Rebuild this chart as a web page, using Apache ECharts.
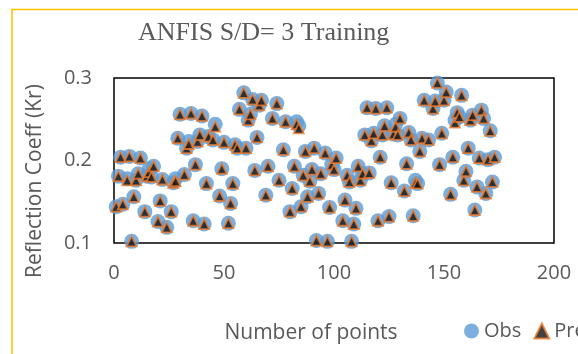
<!DOCTYPE html>
<html>
<head>
<meta charset="utf-8">
<script src="https://cdn.jsdelivr.net/npm/echarts@6/dist/echarts.min.js"></script>
<style>
  html, body { margin: 0; padding: 0; background: #fff; }
  #chart { width: 578px; height: 354px; }
</style>
</head>
<body>
<div id="chart"></div>
<script>
// point number (x)
const pointNo = [1, 2, 3, 4, 6, 7, 8, 9, 10, 11, 12, 14, 15, 16, 17, 18, 20, 21, 22, 24, 26, 27, 28, 29, 30,
  32, 33, 34, 35, 36, 37, 38, 39, 40, 41, 42, 43, 45, 46, 48, 49, 50, 52, 53, 54, 55, 56, 57, 59, 60,
  61, 62, 63, 64, 65, 66, 67, 69, 70, 72, 74, 75, 77, 78, 80, 81, 82, 83, 84, 85, 86, 87, 88, 89, 90,
  91, 92, 93, 94, 96, 97, 98, 99, 100, 101, 104, 105, 106, 107, 108, 109, 110, 111, 112, 113, 114, 115, 116, 117, 118,
  119, 120, 121, 122, 123, 124, 125, 126, 127, 128, 129, 130, 132, 133, 134, 135, 136, 137, 138, 139,
  140, 141, 143, 145, 146, 147, 148, 149, 150, 151, 153, 154, 155, 156, 157, 158, 159, 160, 161, 162,
  163, 164, 165, 166, 167, 168, 169, 170, 171, 172, 173];

// observed Kr
const obsKr = [0.144, 0.181, 0.204, 0.147, 0.178, 0.205, 0.102, 0.156, 0.176, 0.184, 0.203, 0.138, 0.181, 0.190, 0.180, 0.193, 0.126, 0.151, 0.177, 0.119, 0.138, 0.173, 0.178, 0.227, 0.256,
  0.183, 0.215, 0.223, 0.257, 0.127, 0.195, 0.223, 0.231, 0.254, 0.123, 0.172, 0.229, 0.225, 0.244, 0.157, 0.190, 0.222, 0.124, 0.148, 0.172, 0.219, 0.215, 0.262, 0.282, 0.215,
  0.249, 0.256, 0.274, 0.188, 0.228, 0.267, 0.273, 0.158, 0.193, 0.251, 0.269, 0.176, 0.213, 0.247, 0.138, 0.166, 0.193, 0.247, 0.242, 0.144, 0.182, 0.211, 0.156, 0.175, 0.189,
  0.215, 0.103, 0.160, 0.184, 0.209, 0.102, 0.143, 0.195, 0.189, 0.203, 0.127, 0.152, 0.182, 0.174, 0.102, 0.123, 0.142, 0.193, 0.176, 0.184, 0.231, 0.264, 0.185, 0.224, 0.233,
  0.263, 0.127, 0.204, 0.231, 0.242, 0.264, 0.132, 0.173, 0.232, 0.244, 0.231, 0.251, 0.163, 0.196, 0.234, 0.225, 0.133, 0.176, 0.172, 0.211,
  0.227, 0.273, 0.225, 0.263, 0.272, 0.294, 0.195, 0.233, 0.273, 0.283, 0.159, 0.204, 0.249, 0.258, 0.253, 0.279, 0.176, 0.187, 0.215, 0.249,
  0.255, 0.140, 0.168, 0.203, 0.261, 0.251, 0.160, 0.201, 0.236, 0.174, 0.204];

// predicted Kr (ANFIS)
const preKr = [0.144, 0.181, 0.204, 0.147, 0.176, 0.205, 0.102, 0.156, 0.176, 0.184, 0.203, 0.138, 0.181, 0.186, 0.180, 0.193, 0.126, 0.151, 0.177, 0.119, 0.138, 0.173, 0.175, 0.227, 0.256,
  0.183, 0.215, 0.220, 0.257, 0.127, 0.195, 0.223, 0.231, 0.254, 0.123, 0.172, 0.229, 0.225, 0.241, 0.157, 0.190, 0.222, 0.124, 0.148, 0.172, 0.219, 0.215, 0.262, 0.282, 0.215,
  0.249, 0.256, 0.274, 0.188, 0.228, 0.267, 0.273, 0.158, 0.193, 0.251, 0.269, 0.176, 0.213, 0.247, 0.138, 0.166, 0.193, 0.244, 0.239, 0.144, 0.182, 0.211, 0.156, 0.175, 0.189,
  0.215, 0.103, 0.160, 0.184, 0.209, 0.102, 0.143, 0.195, 0.189, 0.203, 0.127, 0.152, 0.182, 0.174, 0.102, 0.123, 0.142, 0.193, 0.176, 0.184, 0.231, 0.264, 0.185, 0.224, 0.233,
  0.263, 0.127, 0.204, 0.231, 0.242, 0.264, 0.132, 0.173, 0.232, 0.241, 0.231, 0.251, 0.163, 0.196, 0.234, 0.225, 0.133, 0.173, 0.172, 0.211,
  0.227, 0.273, 0.225, 0.263, 0.272, 0.294, 0.195, 0.233, 0.273, 0.283, 0.159, 0.204, 0.246, 0.258, 0.253, 0.279, 0.176, 0.187, 0.215, 0.249,
  0.255, 0.140, 0.168, 0.203, 0.261, 0.251, 0.160, 0.201, 0.236, 0.174, 0.204];

const xTicks = { min: 0, max: 200, interval: 50 };
const yTicks = { min: 0.1, max: 0.3, interval: 0.1 };

const fontSans = "'Open Sans', sans-serif";
const grayText = "#595959";

const chart = echarts.init(document.getElementById("chart"));

const option = {
  backgroundColor: "#ffffff",
  animation: false,
  title: {
    text: "ANFIS S/D= 3 Training",
    left: 133,
    top: 15,
    textStyle: {
      fontFamily: "'Liberation Serif', serif",
      fontSize: 26,
      fontWeight: "normal",
      color: grayText,
    },
  },
  grid: {
    left: 114,
    top: 78,
    width: 440,
    height: 165,
    show: true,
    borderColor: "#000",
    borderWidth: 1.5,
    backgroundColor: "transparent",
  },
  xAxis: {
    type: "value",
    min: xTicks.min,
    max: xTicks.max,
    interval: xTicks.interval,
    axisLine: { show: false },
    axisTick: { show: false },
    splitLine: { show: false },
    axisLabel: {
      margin: 20,
      fontFamily: fontSans,
      fontSize: 20,
      color: grayText,
    },
  },
  yAxis: {
    type: "value",
    min: yTicks.min,
    max: yTicks.max,
    interval: yTicks.interval,
    axisLine: { show: false },
    axisTick: { show: false },
    splitLine: { show: false },
    axisLabel: {
      margin: 22,
      fontFamily: fontSans,
      fontSize: 20,
      color: grayText,
      formatter: (v) => v.toFixed(1),
    },
  },
  legend: {
    left: 464,
    top: 321,
    width: 240,
    padding: 0,
    itemWidth: 15,
    itemHeight: 15,
    itemGap: 12,
    textStyle: {
      fontFamily: fontSans,
      fontSize: 20,
      color: grayText,
    },
    data: [
      { name: "Obs", icon: "circle" },
      { name: "Pre", icon: "triangle" },
    ],
  },
  graphic: [
    {
      type: "rect",
      silent: true,
      shape: { x: 12, y: 9.5, width: 700, height: 500 },
      style: { fill: "none", stroke: "#FFC000", lineWidth: 1.5 },
    },
    {
      type: "text",
      x: 35,
      y: 181,
      rotation: Math.PI / 2,
      style: {
        text: "Reflection Coeff (Kr)",
        font: "21px 'Open Sans', sans-serif",
        fill: grayText,
        align: "center",
        verticalAlign: "middle",
      },
    },
    {
      type: "text",
      x: 311,
      y: 333,
      style: {
        text: "Number of points",
        font: "21px 'Open Sans', sans-serif",
        fill: grayText,
        align: "center",
        verticalAlign: "middle",
      },
    },
  ],
  series: [
    {
      name: "Obs",
      type: "scatter",
      clip: false,
      symbol: "circle",
      symbolSize: 15,
      itemStyle: { color: "#5B9BD5" },
      data: pointNo.map((x, i) => [x, obsKr[i]]),
    },
    {
      name: "Pre",
      type: "scatter",
      clip: false,
      symbol: "triangle",
      symbolSize: 10,
      itemStyle: { color: "#111111", borderColor: "#ED7D31", borderWidth: 1.8 },
      data: pointNo.map((x, i) => [x, preKr[i]]),
    },
  ],
};

chart.setOption(option);
</script>
</body>
</html>
